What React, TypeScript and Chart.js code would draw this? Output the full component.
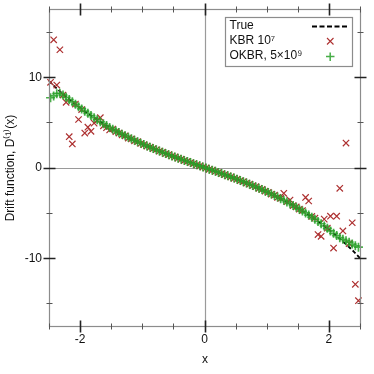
import React, { useEffect, useRef } from "react";
import { Chart, registerables } from "chart.js";

Chart.register(...registerables);

// ---------- data ----------
const trueX = [
  -2.5, -2.4, -2.3, -2.2, -2.1, -2.0, -1.9, -1.8, -1.7, -1.6, -1.5, -1.4, -1.3, -1.2, -1.1, -1.0, -0.9,
  -0.8, -0.7, -0.6, -0.5, -0.4, -0.3, -0.2, -0.1, 0.0, 0.1, 0.2, 0.3, 0.4, 0.5, 0.6, 0.7, 0.8, 0.9, 1.0,
  1.1, 1.2, 1.3, 1.4, 1.5, 1.6, 1.7, 1.8, 1.9, 2.0, 2.1, 2.2, 2.3, 2.4, 2.5,
];
const trueY = [
  9.53, 8.88, 8.25, 7.67, 7.11, 6.58, 6.08, 5.61, 5.16, 4.73, 4.33, 3.95, 3.59, 3.24, 2.92, 2.61, 2.31,
  2.02, 1.75, 1.48, 1.22, 0.97, 0.72, 0.48, 0.24, 0.0, -0.24, -0.48, -0.73, -0.98, -1.24, -1.5, -1.78,
  -2.07, -2.36, -2.68, -3.0, -3.35, -3.71, -4.09, -4.49, -4.91, -5.36, -5.83, -6.33, -6.86, -7.42, -8.0,
  -8.63, -9.28, -10.0,
];

const sampleX = [
  -2.475, -2.425, -2.375, -2.325, -2.275, -2.225, -2.175, -2.125, -2.075, -2.025,
  -1.975, -1.925, -1.875, -1.825, -1.775, -1.725, -1.675, -1.625, -1.575, -1.525,
  -1.475, -1.425, -1.375, -1.325, -1.275, -1.225, -1.175, -1.125, -1.075, -1.025,
  -0.975, -0.925, -0.875, -0.825, -0.775, -0.725, -0.675, -0.625, -0.575, -0.525,
  -0.475, -0.425, -0.375, -0.325, -0.275, -0.225, -0.175, -0.125, -0.075, -0.025,
  0.025, 0.075, 0.125, 0.175, 0.225, 0.275, 0.325, 0.375, 0.425, 0.475,
  0.525, 0.575, 0.625, 0.675, 0.725, 0.775, 0.825, 0.875, 0.925, 0.975,
  1.025, 1.075, 1.125, 1.175, 1.225, 1.275, 1.325, 1.375, 1.425, 1.475,
  1.525, 1.575, 1.625, 1.675, 1.725, 1.775, 1.825, 1.875, 1.925, 1.975,
  2.025, 2.075, 2.125, 2.175, 2.225, 2.275, 2.325, 2.375, 2.425, 2.475,
];

const kbrY = [
  9.4, 14.1, 9.1, 13.0, 8.0, 7.2, 3.4, 2.6, 7.0, 5.3,
  6.4, 3.8, 4.45, 4.0, 4.9, 5.2, 5.5, 4.6, 4.4, 4.15,
  4.25, 3.95, 3.8, 3.6, 3.5, 3.25, 3.15, 2.95, 2.85, 2.65,
  2.52, 2.36, 2.24, 2.08, 1.96, 1.8, 1.69, 1.53, 1.43, 1.27,
  1.17, 1.02, 0.92, 0.77, 0.67, 0.53, 0.43, 0.29, 0.19, 0.05,
  -0.05, -0.2, -0.29, -0.44, -0.53, -0.68, -0.78, -0.93, -1.03, -1.19,
  -1.29, -1.45, -1.55, -1.72, -1.83, -2.01, -2.12, -2.3, -2.42, -2.62,
  -2.74, -2.94, -3.06, -3.3, -3.42, -2.85, -3.78, -3.6, -4.2, -4.35,
  -4.6, -4.75, -3.3, -3.7, -5.4, -5.6, -7.4, -7.6, -5.7, -6.7,
  -5.37, -8.9, -5.37, -2.3, -7.0, 2.7, -8.4, -6.1, -12.9, -14.7,
];

const okbrY = [
  7.7, 7.9, 8.15, 8.2, 8.0, 7.75, 7.5, 7.25, 6.98, 6.72,
  6.47, 6.22, 5.98, 5.73, 5.5, 5.27, 5.05, 4.84, 4.63, 4.43,
  4.23, 4.04, 3.86, 3.68, 3.51, 3.33, 3.17, 3.0, 2.85, 2.69,
  2.53, 2.38, 2.24, 2.09, 1.95, 1.82, 1.68, 1.55, 1.41, 1.28,
  1.16, 1.03, 0.91, 0.78, 0.66, 0.54, 0.42, 0.3, 0.18, 0.06,
  -0.06, -0.18, -0.3, -0.42, -0.54, -0.67, -0.79, -0.92, -1.04, -1.17,
  -1.3, -1.44, -1.57, -1.71, -1.85, -1.99, -2.14, -2.29, -2.44, -2.6,
  -2.76, -2.92, -3.09, -3.26, -3.44, -3.62, -3.81, -4.0, -4.19, -4.39,
  -4.6, -4.81, -5.02, -5.25, -5.48, -5.71, -5.96, -6.21, -6.46, -6.72,
  -7.0, -7.27, -7.52, -7.75, -7.92, -8.08, -8.25, -8.45, -8.65, -8.8,
];

const xMajorTicks = [-2, 0, 2];
const xMinorTicks = [-2.5, -1.5, -1, -0.5, 0.5, 1, 1.5, 2.5];
const yMajorTicks = [-10, 0, 10];
const yMinorTicks = [-15, -5, 5, 15];
const xTickLabels = ["-2", "0", "2"];
const yTickLabels = ["-10", "0", "10"];

const xTitle = "x";
const yTitle = "Drift function, D\u207D\u00B9\u207E(x)";
const legendLabels = ["True", "KBR 10\u2077", "OKBR, 5\u00D710\u2079"];

const RED = "#ad3030";
const GREEN = "rgba(40,160,40,0.85)";
const FONT = "'Liberation Sans', Arial, Helvetica, sans-serif";

const framePlugin = {
  id: "framePlugin",
  beforeDatasetsDraw(chart: any) {
    const { ctx, chartArea, scales } = chart;
    const { left, right, top, bottom } = chartArea;
    const x0 = Math.round(scales.x.getPixelForValue(0)) + 0.5;
    const y0 = Math.round(scales.y.getPixelForValue(0)) + 0.5;
    ctx.save();
    ctx.strokeStyle = "#9a9a9a";
    ctx.lineWidth = 1.2;
    ctx.beginPath();
    ctx.moveTo(left, y0);
    ctx.lineTo(right, y0);
    ctx.moveTo(x0, top);
    ctx.lineTo(x0, bottom);
    ctx.stroke();
    ctx.restore();
  },
  afterDatasetsDraw(chart: any) {
    const { ctx, chartArea, scales } = chart;
    const { left, right, top, bottom } = chartArea;
    const L = left + 0.5, R = right + 0.5, T = top + 0.5, B = bottom + 0.5;
    ctx.save();
    ctx.strokeStyle = "#8c8c8c";
    ctx.lineWidth = 1.2;
    ctx.strokeRect(L, T, R - L, B - T);

    const xt = (v: number, len: number) => {
      const px = Math.round(scales.x.getPixelForValue(v)) + 0.5;
      ctx.beginPath();
      ctx.moveTo(px, B - len);
      ctx.lineTo(px, B + len);
      ctx.moveTo(px, T - len);
      ctx.lineTo(px, T + len);
      ctx.stroke();
    };
    const yt = (v: number, len: number) => {
      const py = Math.round(scales.y.getPixelForValue(v)) + 0.5;
      ctx.beginPath();
      ctx.moveTo(L - len, py);
      ctx.lineTo(L + len, py);
      ctx.moveTo(R - len, py);
      ctx.lineTo(R + len, py);
      ctx.stroke();
    };
    ctx.strokeStyle = "#555";
    ctx.lineWidth = 1;
    xMinorTicks.forEach((v) => xt(v, 3));
    yMinorTicks.forEach((v) => yt(v, 3));
    ctx.strokeStyle = "#222";
    ctx.lineWidth = 1.6;
    xMajorTicks.forEach((v) => xt(v, 6));
    yMajorTicks.forEach((v) => yt(v, 6));

    ctx.fillStyle = "#111";
    ctx.font = `12px ${FONT}`;
    ctx.textAlign = "center";
    ctx.textBaseline = "middle";
    xMajorTicks.forEach((v, i) => {
      ctx.fillText(xTickLabels[i], scales.x.getPixelForValue(v), 339.5);
    });
    ctx.textAlign = "right";
    yMajorTicks.forEach((v, i) => {
      ctx.fillText(yTickLabels[i], 42, scales.y.getPixelForValue(v) + 0.5);
    });

    ctx.textAlign = "center";
    ctx.fillText(xTitle, (L + R) / 2, 360);
    ctx.save();
    ctx.translate(11, (T + B) / 2);
    ctx.rotate(-Math.PI / 2);
    ctx.fillText(yTitle, 0, 0);
    ctx.restore();

    const bx = 225.5, by = 17.5, bw = 127, bh = 49;
    ctx.fillStyle = "#fff";
    ctx.fillRect(bx, by, bw, bh);
    ctx.strokeStyle = "#8c8c8c";
    ctx.lineWidth = 1.2;
    ctx.strokeRect(bx, by, bw, bh);
    ctx.fillStyle = "#111";
    ctx.textAlign = "left";
    const rows = [26, 41, 56];
    legendLabels.forEach((t, i) => ctx.fillText(t, 229.5, rows[i]));
    ctx.strokeStyle = "#000";
    ctx.lineWidth = 2;
    ctx.setLineDash([5, 2.5]);
    ctx.beginPath();
    ctx.moveTo(312, 26.5);
    ctx.lineTo(348, 26.5);
    ctx.stroke();
    ctx.setLineDash([]);
    ctx.strokeStyle = RED;
    ctx.lineWidth = 1.1;
    ctx.beginPath();
    ctx.moveTo(327, 38);
    ctx.lineTo(333.5, 44.5);
    ctx.moveTo(333.5, 38);
    ctx.lineTo(327, 44.5);
    ctx.stroke();
    ctx.strokeStyle = GREEN;
    ctx.lineWidth = 1.5;
    ctx.beginPath();
    ctx.moveTo(326, 56.5);
    ctx.lineTo(334.5, 56.5);
    ctx.moveTo(330.2, 52.5);
    ctx.lineTo(330.2, 61);
    ctx.stroke();
    ctx.restore();
  },
};

export default function App() {
  const ref = useRef<HTMLCanvasElement | null>(null);
  useEffect(() => {
    if (!ref.current) return;
    const chart = new Chart(ref.current, {
      type: "scatter",
      data: {
        datasets: [
          {
            label: legendLabels[2],
            data: sampleX.map((x, i) => ({ x, y: okbrY[i] })),
            pointStyle: "cross",
            pointRadius: 4.5,
            borderColor: GREEN,
            backgroundColor: GREEN,
            pointBorderWidth: 1.7,
            clip: false,
            order: 0,
          } as any,
          {
            label: legendLabels[1],
            data: sampleX.map((x, i) => ({ x, y: kbrY[i] })),
            pointStyle: "crossRot",
            pointRadius: 4.5,
            borderColor: RED,
            backgroundColor: RED,
            pointBorderWidth: 1.2,
            clip: false,
            order: 1,
          } as any,
          {
            type: "line",
            label: legendLabels[0],
            data: trueX.map((x, i) => ({ x, y: trueY[i] })),
            showLine: true,
            borderColor: "#000",
            borderWidth: 1.8,
            borderDash: [4, 2.5],
            pointRadius: 0,
            fill: false,
            tension: 0,
            clip: false,
            order: 2,
          } as any,
        ],
      },
      options: {
        animation: false,
        responsive: false,
        maintainAspectRatio: false,
        events: [],
        layout: { padding: { left: 49, right: 14, top: 9, bottom: 48 } },
        plugins: { legend: { display: false }, tooltip: { enabled: false } },
        scales: {
          x: { type: "linear", min: -2.5, max: 2.5, display: false },
          y: { type: "linear", min: -17.5, max: 17.5, display: false },
        },
      },
      plugins: [framePlugin],
    });
    return () => chart.destroy();
  }, []);
  return (
    <div style={{ position: "fixed", left: 0, top: 0, width: 374, height: 374, background: "#fff" }}>
      <canvas ref={ref} width={374} height={374} style={{ width: 374, height: 374, display: "block" }} />
    </div>
  );
}
